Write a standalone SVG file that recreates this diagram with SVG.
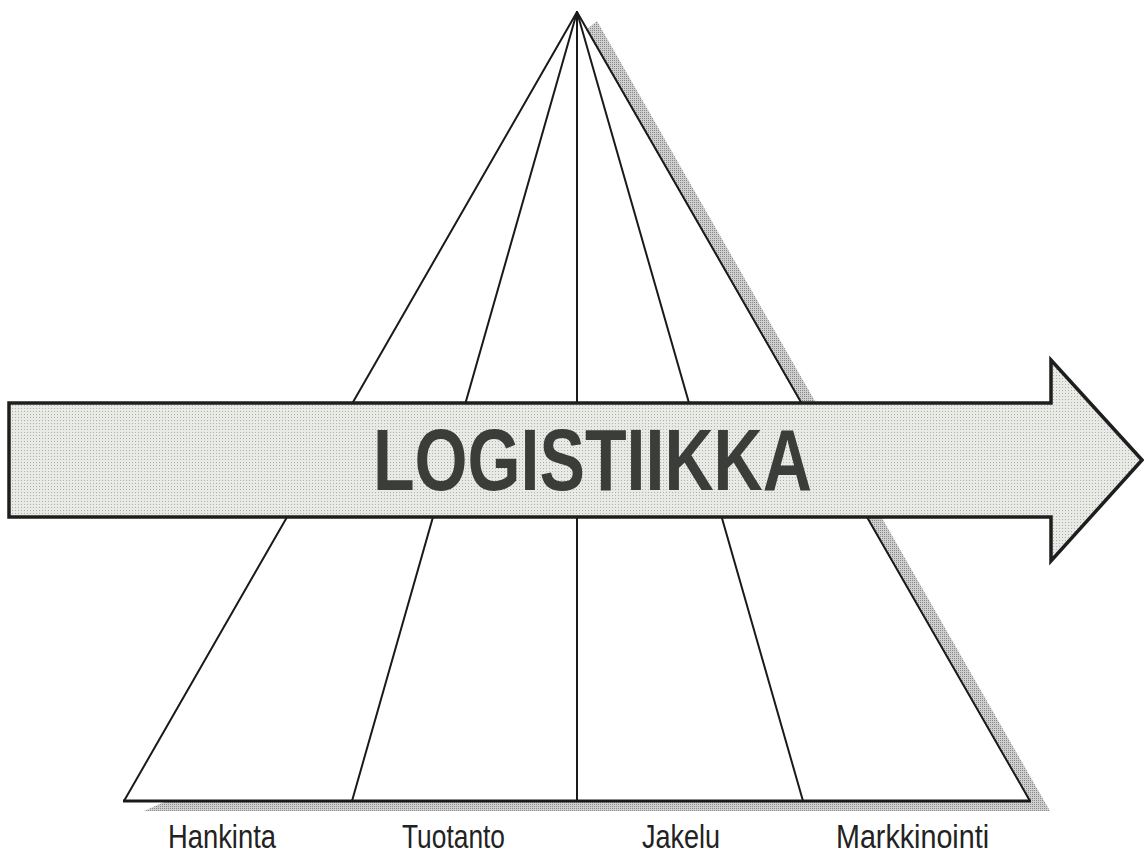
<svg xmlns="http://www.w3.org/2000/svg" width="1144" height="855" viewBox="0 0 1144 855">
  <defs>
    <pattern id="dots" width="3" height="3" patternUnits="userSpaceOnUse">
      <rect width="3" height="3" fill="#e8eae6"/>
      <rect width="1" height="1" fill="#aeb1ac"/>
    </pattern>
    <pattern id="shade" width="2" height="2" patternUnits="userSpaceOnUse">
      <rect width="2" height="2" fill="#cfcfcf"/>
      <rect width="1" height="1" fill="#8a8a8a"/>
    </pattern>
  </defs>
  <style>
    .edge { fill: none; stroke: #1a1a1a; stroke-width: 2; stroke-linecap: round; }
    .base { fill: none; stroke: #1a1a1a; stroke-width: 3; }
    .label { font-family: "Liberation Sans", Arial, sans-serif; font-size: 34px; fill: #222; }
    .title { font-family: "Liberation Sans", Arial, sans-serif; font-weight: bold; font-size: 87px; fill: #3a3d3a; }
  </style>
  <rect width="1144" height="855" fill="#ffffff"/>
  <g id="pyramid-shadow">
    <polygon points="597,21 1050,811 144,811 164,802 1030,802 586,30" fill="url(#shade)"/>
  </g>
  <g id="pyramid">
    <line class="edge" x1="577" y1="12" x2="124" y2="801"/>
    <line class="edge" x1="577" y1="12" x2="352" y2="801"/>
    <line class="edge" x1="577" y1="12" x2="577" y2="801"/>
    <line class="edge" x1="577" y1="12" x2="803" y2="801"/>
    <line class="edge" x1="577" y1="12" x2="1030" y2="801"/>
    <line class="base" x1="123" y1="801" x2="1031" y2="801"/>
  </g>
  <g id="arrow">
    <polygon points="9,403 1051,403 1051,360 1142,460 1051,561 1051,517 9,517" fill="url(#dots)" stroke="#1e1e1e" stroke-width="3.5" stroke-linejoin="miter"/>
    <text class="title" x="373" y="490" textLength="439" lengthAdjust="spacingAndGlyphs">LOGISTIIKKA</text>
  </g>
  <g id="labels">
    <text class="label" x="168" y="848" textLength="108" lengthAdjust="spacingAndGlyphs">Hankinta</text>
    <text class="label" x="402" y="848" textLength="103" lengthAdjust="spacingAndGlyphs">Tuotanto</text>
    <text class="label" x="642" y="848" textLength="78" lengthAdjust="spacingAndGlyphs">Jakelu</text>
    <text class="label" x="836" y="848" textLength="153" lengthAdjust="spacingAndGlyphs">Markkinointi</text>
  </g>
</svg>
